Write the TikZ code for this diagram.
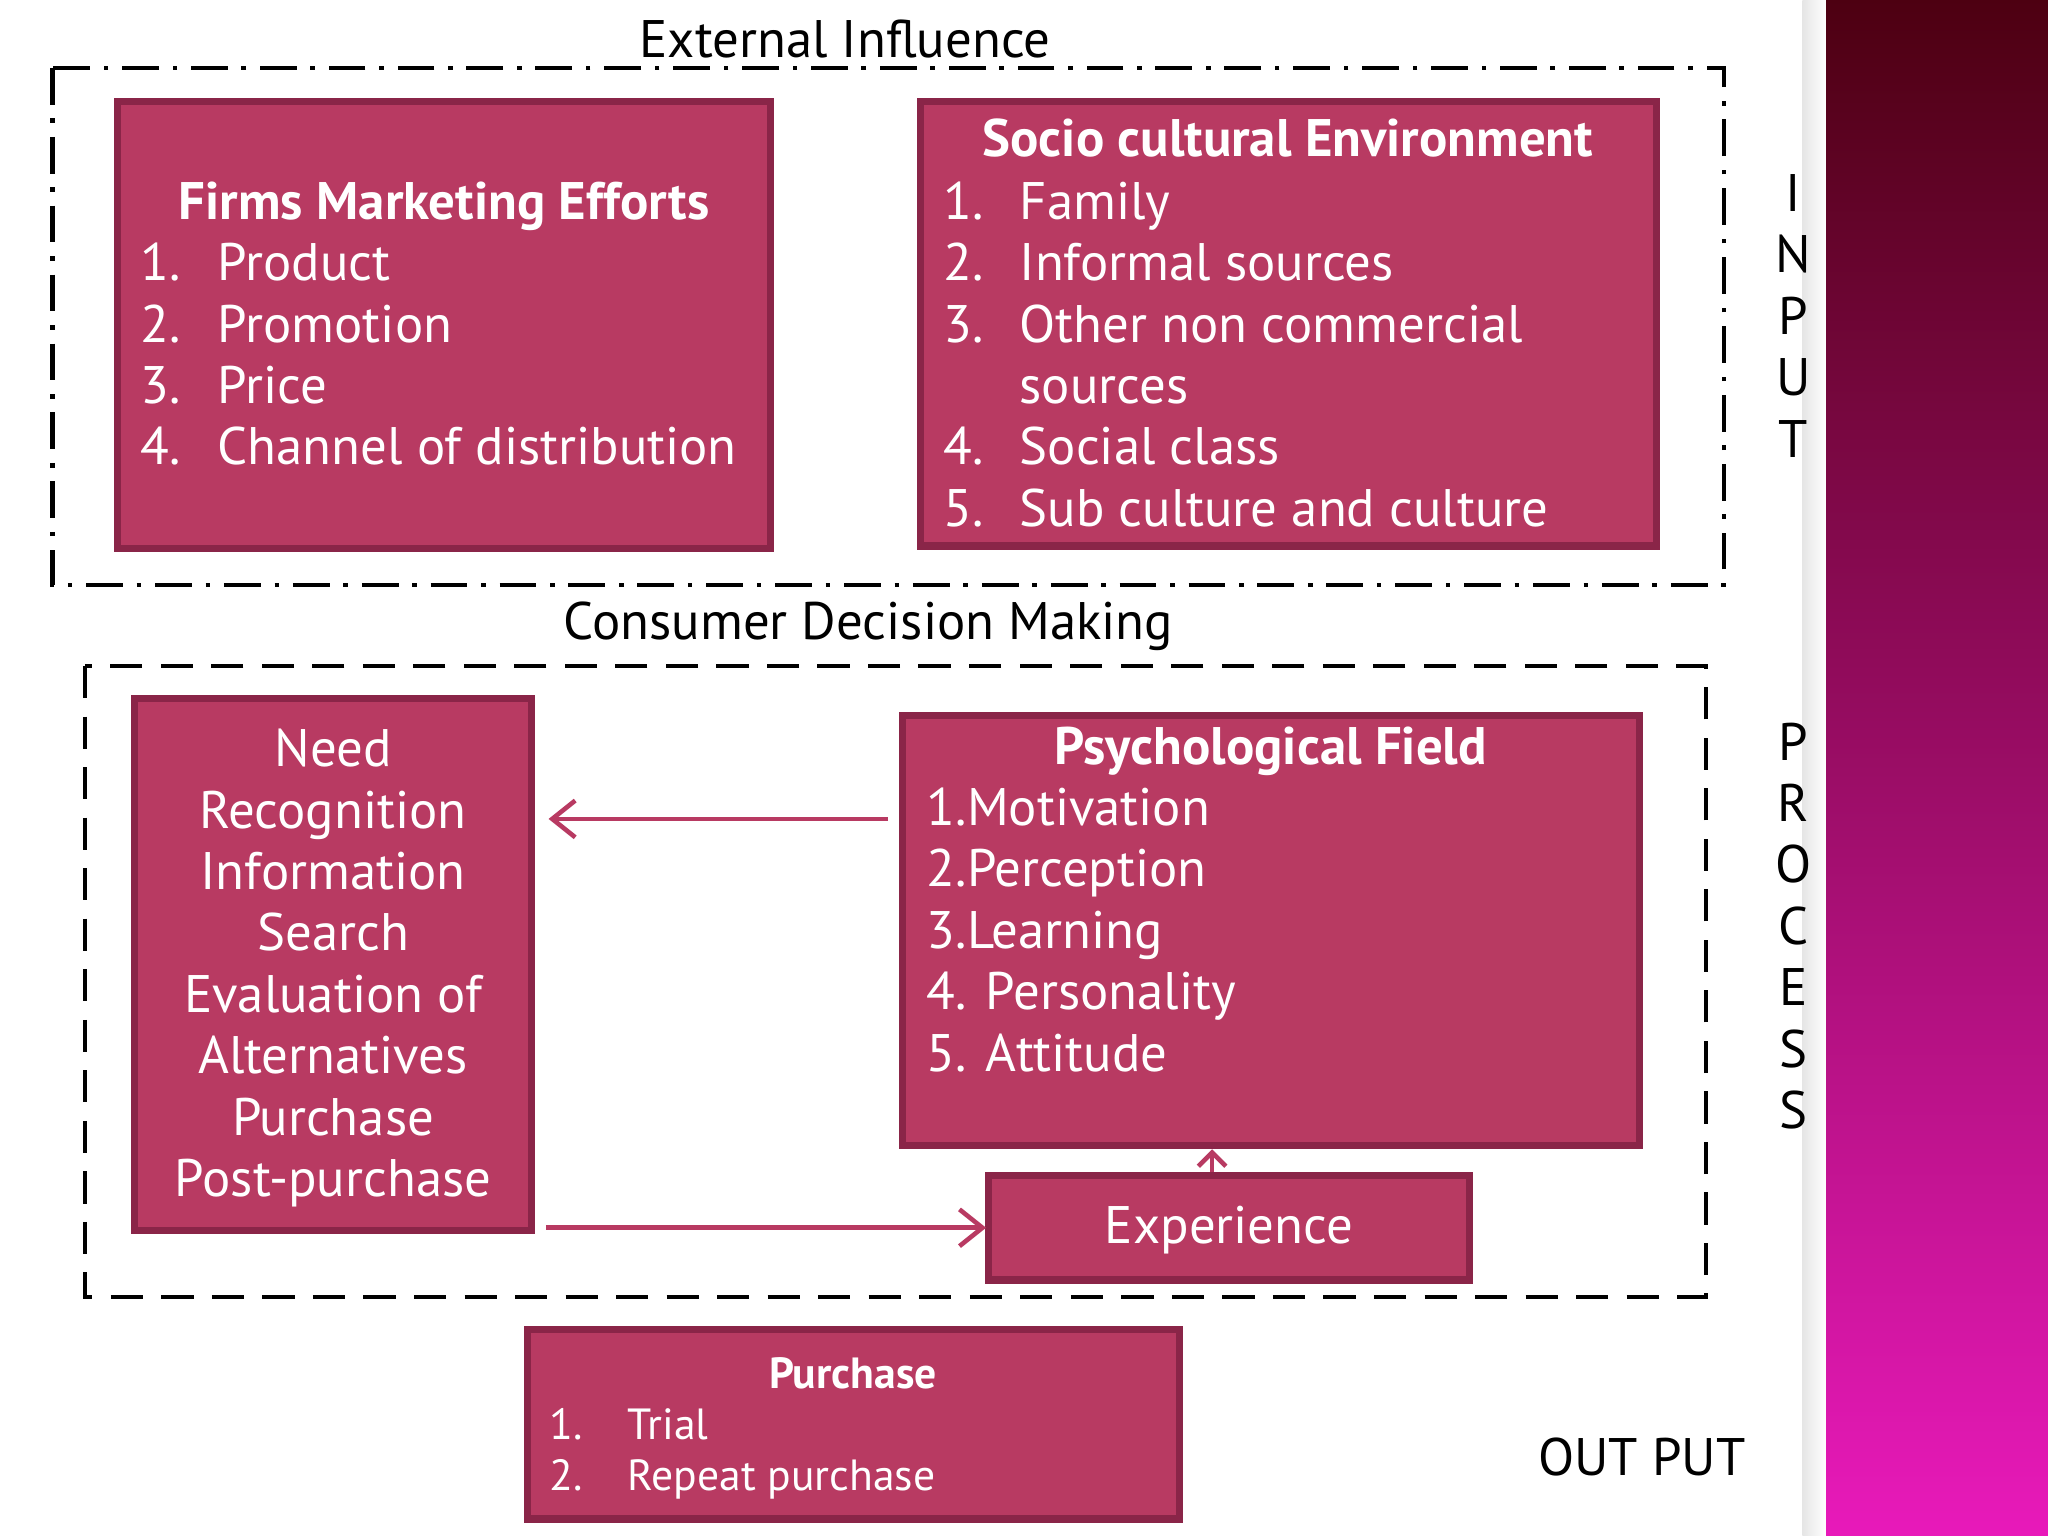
\documentclass[tikz,border=0pt]{standalone}
\usepackage{fontspec}
\setmainfont{PT Sans}
\usetikzlibrary{arrows.meta}
\definecolor{boxfill}{HTML}{B83A62}
\definecolor{boxline}{HTML}{8A2548}
\begin{document}
\begin{tikzpicture}[x=0.01cm,y=-0.01cm,
  box/.style={draw=boxline,line width=1.6pt,fill=boxfill,inner sep=0pt},
  wt/.style={text=white,font=\fontsize{11.5}{13}\selectfont,inner sep=0pt,anchor=base west},
  wtb/.style={wt,font=\fontsize{11.5}{13}\selectfont\bfseries,anchor=base},
  bt/.style={text=black,font=\fontsize{11.5}{13}\selectfont,inner sep=0pt,anchor=base},
  arr/.style={draw=boxfill,line width=1pt,-{Straight Barb[length=5pt,width=8pt]}}]
\useasboundingbox (0,0) rectangle (1568,1176);
\shade[top color=black!70!purple!90!red, bottom color=magenta!60!purple!90!white] (1398,0) rectangle (1568,1176);
\shade[left color=black!10,right color=white] (1380,0) rectangle (1398,1176);
% external
\draw[line width=1pt,dash pattern=on 8pt off 3pt on 1pt off 3pt] (40,52) rectangle (1320,448);
\node[bt,fill=white,inner xsep=2pt] (ext) at (647,44) {External Influence};
\node[box,minimum width=5.00cm,minimum height=3.42cm] (firm) at (340,249) {};
\node[wtb] (ft) at (340,168) {Firms Marketing Efforts};
\foreach \i/\t in {1/Product,2/Promotion,3/Price,4/Channel of distribution}{
  \node[wt] (f\i) at (107,215+47*\i-47) {\i.};
  \node[wt] (fi\i) at (166,215+47*\i-47) {\t};}
\node[box,minimum width=5.63cm,minimum height=3.40cm] (soc) at (986.5,248) {};
\node[wtb] (st) at (986,120) {Socio cultural Environment};
\node[wt] at (722,168) {1.}; \node[wt] at (780,168) {Family};
\node[wt] at (722,215) {2.}; \node[wt] at (780,215) {Informal sources};
\node[wt] at (722,262) {3.}; \node[wt] at (780,262) {Other non commercial};
\node[wt] at (780,309) {sources};
\node[wt] at (722,356) {4.}; \node[wt] at (780,356) {Social class};
\node[wt] at (722,403) {5.}; \node[wt] at (780,403) {Sub culture and culture};
\foreach \l [count=\k] in {I,N,P,U,T}{\node[bt] at (1373,115+47*\k) {\l};}
% process
\node[bt] (cdm) at (665,490) {Consumer Decision Making};
\draw[line width=1pt,dash pattern=on 7pt off 4pt] (65,510) rectangle (1306,993);
\node[box,minimum width=3.04cm,minimum height=4.07cm] (need) at (255,738.5) {};
\foreach \t [count=\k] in {Need,Recognition,Information,Search,Evaluation of,Alternatives,Purchase,Post-purchase}{
  \node[wt,anchor=base] at (255,540+47*\k) {\t};}
\node[box,minimum width=5.64cm,minimum height=3.29cm] (psy) at (973,712.5) {};
\node[wtb] (pt) at (973,585) {Psychological Field};
\foreach \t [count=\k] in {1.Motivation,2.Perception,3.Learning,4. Personality,5. Attitude}{
  \node[wt] at (709,585+47*\k) {\t};}
\node[box,minimum width=3.68cm,minimum height=0.80cm] (exp) at (941,940) {};
\node[wt,anchor=center] (et) at (941,942) {Experience};
\coordinate (a1) at (680,627); \coordinate (a2) at (420,627);
\coordinate (b1) at (418,940); \coordinate (b2) at (755,940);
\draw[arr] (a1) -- (a2);
\draw[arr] (b1) -- (b2);
\draw[arr,-{Straight Barb[length=3pt,width=6pt]}] (exp.north -| 928,0) -- (psy.south -| 928,0);
\foreach \l [count=\k] in {P,R,O,C,E,S,S}{\node[bt] at (1373,535+47*\k) {\l};}
% output
\node[box,minimum width=4.99cm,minimum height=1.45cm] (pur) at (653.5,1090.5) {};
\node[wtb,font=\fontsize{9.5}{11}\selectfont\bfseries] at (653,1063) {Purchase};
\node[wt,font=\fontsize{9.5}{11}\selectfont] at (420,1102) {1.}; \node[wt,font=\fontsize{9.5}{11}\selectfont] at (480,1102) {Trial};
\node[wt,font=\fontsize{9.5}{11}\selectfont] at (420,1141) {2.}; \node[wt,font=\fontsize{9.5}{11}\selectfont] at (480,1141) {Repeat purchase};
\node[bt] (out) at (1257,1130) {OUT PUT};
\end{tikzpicture}
\end{document}
